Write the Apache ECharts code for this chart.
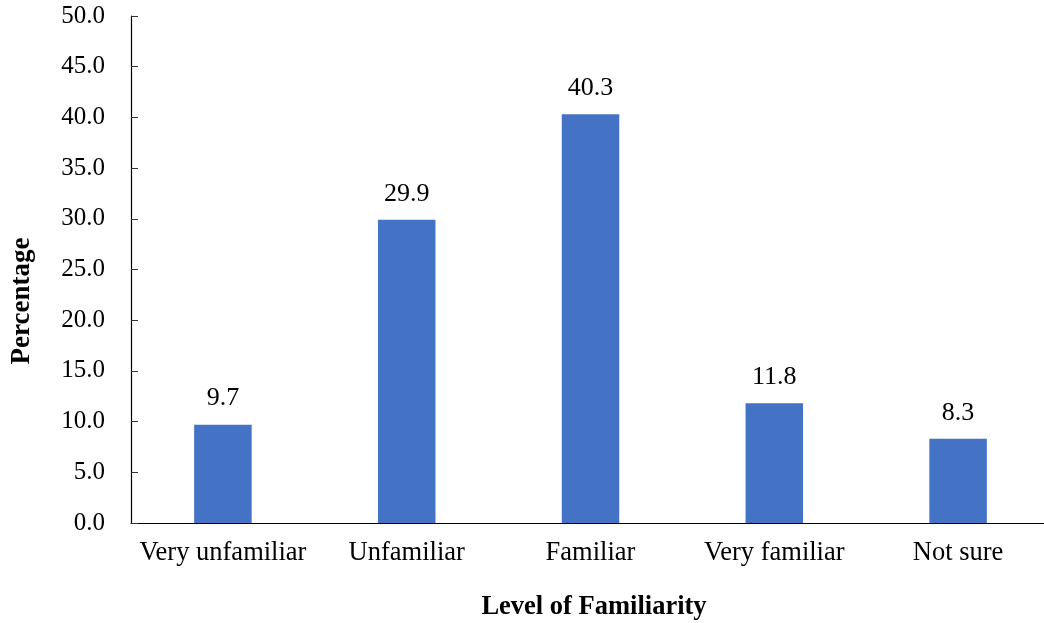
<!DOCTYPE html>
<html>
<head>
<meta charset="utf-8">
<script src="https://cdn.jsdelivr.net/npm/echarts@6/dist/echarts.min.js"></script>
<style>
  html, body { margin: 0; padding: 0; background: #fff; }
  #chart { width: 1044px; height: 623px; }
</style>
</head>
<body>
<div id="chart"></div>
<script>
// Survey responses: level of familiarity (percentage of respondents)
const categories = ['Very unfamiliar', 'Unfamiliar', 'Familiar', 'Very familiar', 'Not sure'];
const percentages = [9.7, 29.9, 40.3, 11.8, 8.3];
const yTicks = { min: 0, max: 50, interval: 5 };
const xTitle = 'Level of Familiarity';
const yTitle = 'Percentage';

const serif = '"Liberation Serif", "Times New Roman", serif';
const chart = echarts.init(document.getElementById('chart'), null, { renderer: 'canvas' });

chart.setOption({
  animation: false,
  backgroundColor: '#ffffff',
  grid: {
    left: 131, top: 16, width: 919, height: 507,
    containLabel: false, outerBoundsMode: 'none'
  },
  xAxis: {
    type: 'category',
    data: categories,
    axisLine: { show: true, lineStyle: { color: '#000', width: 1.2 } },
    axisTick: { show: false },
    axisLabel: { color: '#000', fontFamily: serif, fontSize: 26.5, margin: 17, interval: 0 },
    splitLine: { show: false }
  },
  yAxis: {
    type: 'value',
    min: yTicks.min,
    max: yTicks.max,
    interval: yTicks.interval,
    axisLine: { show: true, lineStyle: { color: '#000', width: 1.2 } },
    axisTick: { show: true, inside: true, length: 7, lineStyle: { color: '#333', width: 1 } },
    axisLabel: {
      color: '#000', fontFamily: serif, fontSize: 25, margin: 26,
      formatter: v => v.toFixed(1)
    },
    splitLine: { show: false }
  },
  series: [{
    type: 'bar',
    data: percentages,
    barWidth: 57.5,
    itemStyle: { color: '#4472C4' },
    label: {
      show: true,
      position: 'top',
      distance: 13,
      color: '#000',
      fontFamily: serif,
      fontSize: 26,
      formatter: p => p.value.toFixed(1)
    }
  }],
  graphic: [
    {
      type: 'text',
      position: [594, 607],
      style: {
        text: xTitle,
        fill: '#000',
        font: 'bold 26.5px ' + serif,
        textAlign: 'center',
        textVerticalAlign: 'middle'
      }
    },
    {
      type: 'text',
      rotation: Math.PI / 2,
      position: [22, 301],
      style: {
        text: yTitle,
        fill: '#000',
        font: 'bold 27px ' + serif,
        textAlign: 'center',
        textVerticalAlign: 'middle'
      }
    }
  ]
});
</script>
</body>
</html>
